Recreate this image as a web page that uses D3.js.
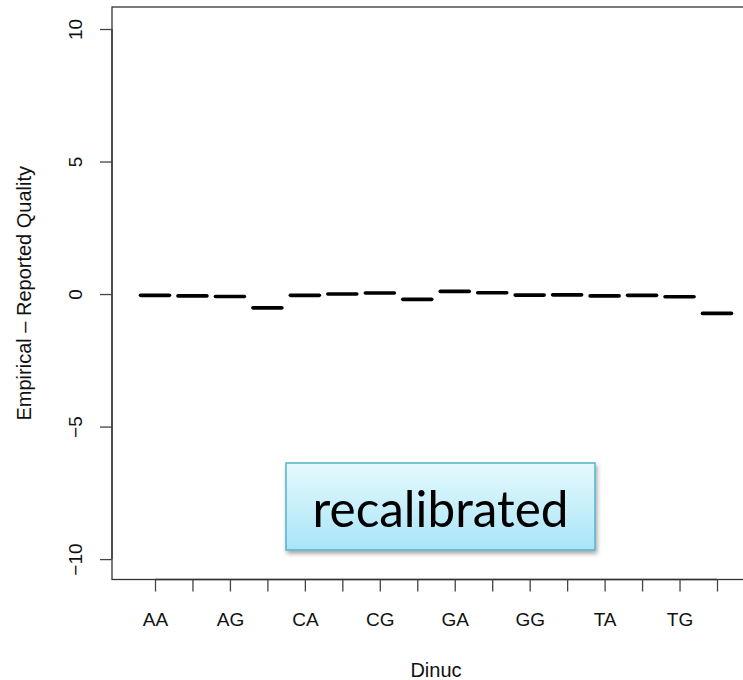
<!DOCTYPE html>
<html>
<head>
<meta charset="utf-8">
<script src="https://cdn.jsdelivr.net/npm/d3@7"></script>
<style>
  html, body { margin: 0; padding: 0; background: #fff; }
  svg { display: block; }
  text { font-family: "Liberation Sans", Arial, Helvetica, sans-serif; }
</style>
</head>
<body>
<svg id="chart" width="743" height="680"></svg>
<script>
// ---- data ----
const categories = ["AA","AC","AG","AT","CA","CC","CG","CT","GA","GC","GG","GT","TA","TC","TG","TT"];
const values = [-0.05, -0.07, -0.09, -0.52, -0.05, 0.0, 0.04, -0.2, 0.1, 0.05, -0.04, -0.03, -0.07, -0.05, -0.1, -0.73];
const xTickLabels = ["AA","AG","CA","CG","GA","GG","TA","TG"];
const yTicks = [-10, -5, 0, 5, 10];
const xTitle = "Dinuc";
const yTitle = "Empirical \u2013 Reported Quality";
const annotation = "recalibrated";

// ---- layout ----
const plot = { left: 112, top: 7, right: 760, bottom: 579.5 };
const svg = d3.select("#chart");

const x = d3.scalePoint().domain(categories).range([155, 717]);
const y = d3.scaleLinear().domain([-10.77, 10.83]).range([plot.bottom, plot.top]);

// frame box
svg.append("rect")
  .attr("x", plot.left).attr("y", plot.top)
  .attr("width", plot.right - plot.left).attr("height", plot.bottom - plot.top)
  .attr("fill", "none").attr("stroke", "#333").attr("stroke-width", 1.3);

// y axis
const yAxis = svg.append("g").attr("transform", `translate(${plot.left},0)`)
  .call(d3.axisLeft(y).tickValues(yTicks).tickSize(12).tickFormat(d => d < 0 ? "\u2212" + Math.abs(d) : d));
yAxis.select(".domain").attr("stroke", "#333").attr("stroke-width", 1.3)
  .attr("d", `M0,${y(-10)}V${y(10)}`);
yAxis.selectAll(".tick line").attr("stroke", "#444").attr("stroke-width", 1.3);
yAxis.selectAll(".tick text")
  .attr("x", null).attr("dy", null)
  .attr("transform", "translate(-30,0) rotate(-90)")
  .attr("text-anchor", "middle")
  .attr("font-size", 19).attr("fill", "#111")
  .style("font-family", '"Liberation Sans", Arial, sans-serif');

// x axis
const xAxis = svg.append("g").attr("transform", `translate(0,${plot.bottom})`)
  .call(d3.axisBottom(x).tickSize(12).tickFormat(d => xTickLabels.includes(d) ? d : ""));
xAxis.select(".domain").attr("stroke", "#333").attr("stroke-width", 1.3)
  .attr("d", `M${x(categories[0])},0H${x(categories[categories.length-1])}`);
xAxis.selectAll(".tick line").attr("stroke", "#444").attr("stroke-width", 1.3);
xAxis.selectAll(".tick text")
  .attr("y", 46).attr("dy", null)
  .attr("font-size", 19).attr("fill", "#111")
  .style("font-family", '"Liberation Sans", Arial, sans-serif');

// dashes (values)
const halfW = 14.5;
svg.append("g").selectAll("line").data(values).join("line")
  .attr("x1", (d, i) => x(categories[i]) - halfW)
  .attr("x2", (d, i) => x(categories[i]) + halfW)
  .attr("y1", d => y(d)).attr("y2", d => y(d))
  .attr("stroke", "#000").attr("stroke-width", 3.6).attr("stroke-linecap", "round");

// titles
svg.append("text")
  .attr("x", (plot.left + plot.right) / 2).attr("y", 677)
  .attr("text-anchor", "middle").attr("font-size", 20).attr("fill", "#111")
  .text(xTitle);
svg.append("text")
  .attr("transform", `translate(31,${(plot.top + plot.bottom) / 2}) rotate(-90)`)
  .attr("text-anchor", "middle").attr("font-size", 20).attr("fill", "#111")
  .text(yTitle);

// annotation box
const defs = svg.append("defs");
const grad = defs.append("linearGradient").attr("id", "boxGrad")
  .attr("x1", 0).attr("y1", 0).attr("x2", 0).attr("y2", 1);
grad.append("stop").attr("offset", "0%").attr("stop-color", "#e6f9fd");
grad.append("stop").attr("offset", "100%").attr("stop-color", "#a8e5f7");
const flt = defs.append("filter").attr("id", "shadow")
  .attr("x", "-10%").attr("y", "-10%").attr("width", "130%").attr("height", "140%");
flt.append("feDropShadow").attr("dx", 1.5).attr("dy", 3).attr("stdDeviation", 2)
  .attr("flood-color", "#000").attr("flood-opacity", 0.35);

const box = { x: 286, y: 463, w: 309, h: 87 };
svg.append("rect")
  .attr("x", box.x).attr("y", box.y).attr("width", box.w).attr("height", box.h)
  .attr("fill", "url(#boxGrad)").attr("stroke", "#55b3cd").attr("stroke-width", 1.5)
  .attr("filter", "url(#shadow)");
const ann = svg.append("text")
  .attr("x", box.x + box.w / 2).attr("y", 527)
  .attr("text-anchor", "middle").attr("fill", "#000")
  .style("font-family", 'Lato, "Open Sans", sans-serif')
  .attr("font-size", 46)
  .text(annotation);
const len = ann.node().getComputedTextLength();
ann.attr("font-size", 46 * 256 / len);
</script>
</body>
</html>
